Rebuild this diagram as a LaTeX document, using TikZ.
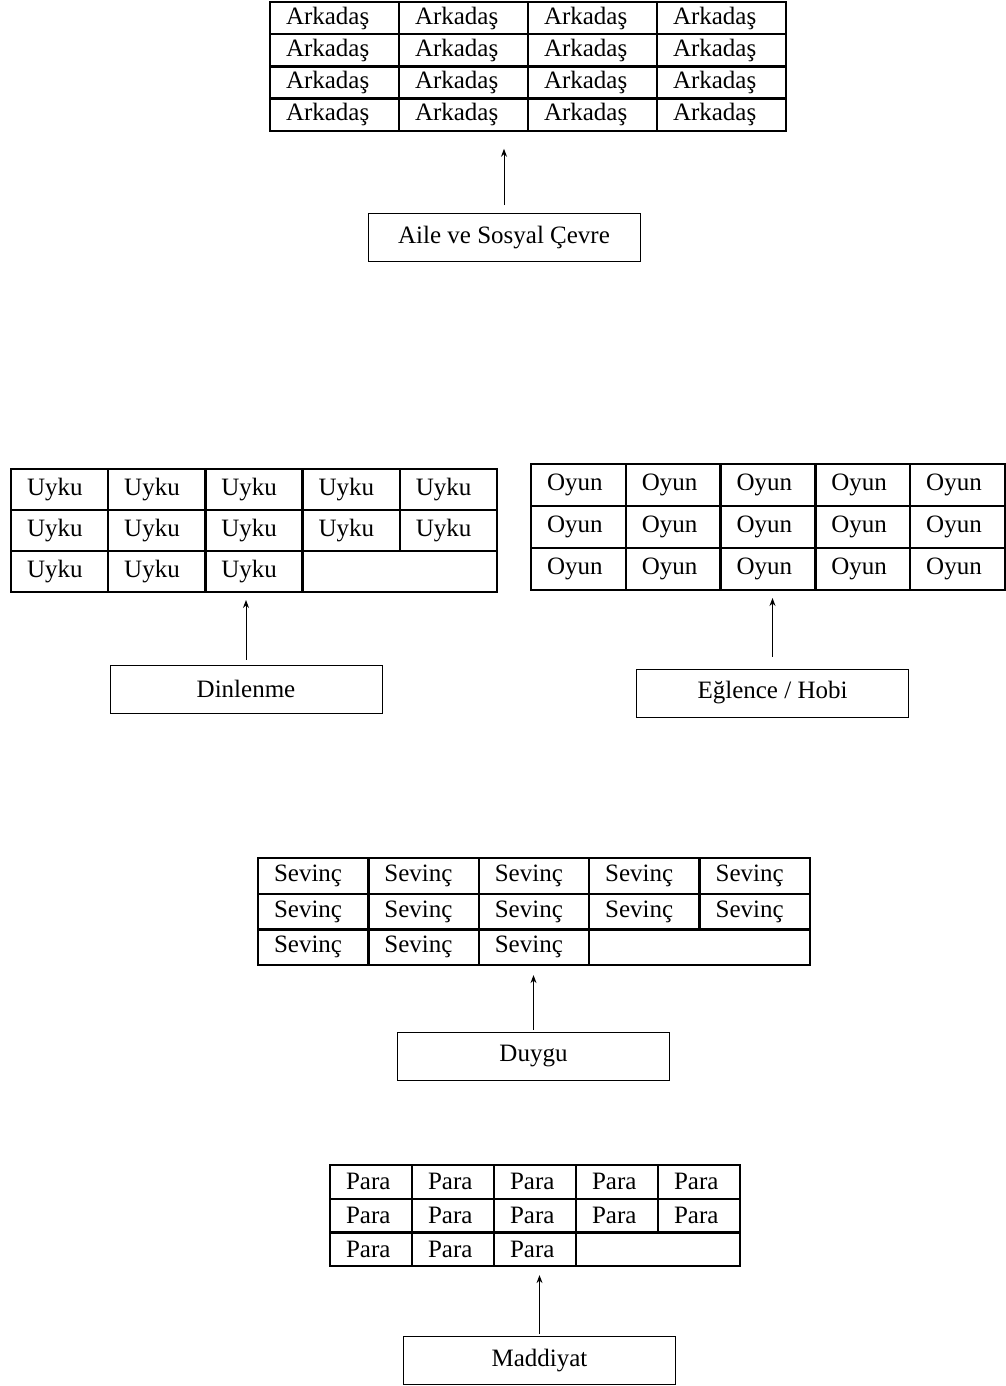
\documentclass[tikz,border=0pt]{standalone}
\usepackage{fontspec}
\setmainfont{Liberation Serif}
\usetikzlibrary{arrows.meta}

\tikzset{
	cell/.style 2 args={draw, line width=1.2pt, anchor=north west, inner xsep=8pt, inner ysep=0pt, outer sep=0pt, text width=#1, minimum height=#2, align=left},
	labelbox/.style={draw, line width=0.5pt, minimum width=136pt, minimum height=24pt},
	uparrow/.style={-{Stealth[length=4pt,width=3pt]}, line width=0.5pt},
	}

\begin{document}
\begin{tikzpicture}[x=0.5pt, y=-0.5pt, every node/.style={font=\fontsize{12.5}{15}\selectfont}]
		\useasboundingbox (0,0) rectangle (1006,1386);
		% arkadas
		\foreach \r in {0,...,3}
			\foreach \c in {0,...,3}
				\node[cell={48.5pt}{16.1pt}] (ark-\r-\c) at ({270+129*\c},{2+32.2*\r}) {Arkadaş};
		\node[labelbox] (aile) at (504,237.5) {Aile ve Sosyal Çevre};
		\draw[uparrow, shorten <=4pt, shorten >=9pt] (aile.north) -- (aile.north |- ark-3-0.south);
		% uyku
		\foreach \r in {0,1}
			\foreach \c in {0,...,4}
				\node[cell={32.6pt}{20.5pt}] (uyku-\r-\c) at ({11+97.2*\c},{469+41*\r}) {Uyku};
		\foreach \c in {0,1,2}
			\node[cell={32.6pt}{20.5pt}] (uyku-2-\c) at ({11+97.2*\c},551) {Uyku};
		\node[cell={81.2pt}{20.5pt}] (uyku-2-3) at ({11+97.2*3},551) {};
		\node[labelbox] (dinlenme) at (246,689) {Dinlenme};
		\draw[uparrow, shorten <=2.5pt, shorten >=4pt] (dinlenme.north) -- (dinlenme.north |- uyku-2-0.south);
		% oyun
		\foreach \r in {0,1,2}
			\foreach \c in {0,...,4}
				\node[cell={31.4pt}{21pt}] (oyun-\r-\c) at ({531+94.8*\c},{464+42*\r}) {Oyun};
		\node[labelbox] (eglence) at (772.5,693) {Eğlence / Hobi};
		\draw[uparrow, shorten <=6pt, shorten >=4pt] (eglence.north) -- (eglence.north |- oyun-2-0.south);
		% sevinc
		\foreach \r in {0,1}
			\foreach \c in {0,...,4}
				\node[cell={39.2pt}{17.85pt}] (sev-\r-\c) at ({258+110.4*\c},{858+35.7*\r}) {Sevinç};
		\foreach \c in {0,1,2}
			\node[cell={39.2pt}{17.85pt}] (sev-2-\c) at ({258+110.4*\c},929.4) {Sevinç};
		\node[cell={94.4pt}{17.85pt}] (sev-2-3) at ({258+110.4*3},929.4) {};
		\node[labelbox] (duygu) at (533.5,1056) {Duygu};
		\draw[uparrow, shorten <=1pt, shorten >=5pt] (duygu.north) -- (duygu.north |- sev-2-0.south);
		% para
		\foreach \r in {0,1}
			\foreach \c in {0,...,4}
				\node[cell={25pt}{16.85pt}] (para-\r-\c) at ({330+82*\c},{1165+33.7*\r}) {Para};
		\foreach \c in {0,1,2}
			\node[cell={25pt}{16.85pt}] (para-2-\c) at ({330+82*\c},1232.4) {Para};
		\node[cell={66pt}{16.85pt}] (para-2-3) at ({330+82*3},1232.4) {};
		\node[labelbox] (maddiyat) at (539.5,1360.5) {Maddiyat};
		\draw[uparrow, shorten <=1pt, shorten >=4.5pt] (maddiyat.north) -- (maddiyat.north |- para-2-0.south);
	\end{tikzpicture}
\end{document}
